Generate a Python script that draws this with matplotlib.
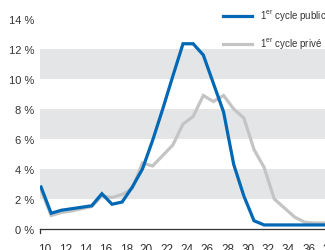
import matplotlib
matplotlib.use("Agg")
import matplotlib.pyplot as plt
import matplotlib.transforms as mtransforms

ages = list(range(10, 39))
public = [2.8, 1.05, 1.25, 1.35, 1.45, 1.55, 2.35, 1.65, 1.8, 2.8, 4.0, 5.9, 8.0, 10.2,
          12.35, 12.35, 11.6, 9.7, 7.8, 4.3, 2.2, 0.55, 0.27, 0.27, 0.27, 0.27, 0.27, 0.27, 0.27]
prive = [2.6, 0.9, 1.1, 1.2, 1.35, 1.5, 2.2, 2.1, 2.3, 2.7, 4.4, 4.2, 4.9, 5.6,
         7.0, 7.5, 8.9, 8.5, 8.9, 8.0, 7.4, 5.3, 4.1, 2.0, 1.4, 0.8, 0.45, 0.4, 0.4]
xticks = list(range(10, 40, 2))
yticks = [0, 2, 4, 6, 8, 10, 12, 14]
bands = [(2, 4), (6, 8), (10, 12)]
label_public = r"1$^{\mathregular{er}}$ cycle public"
label_prive = r"1$^{\mathregular{er}}$ cycle privé"

W, H = 325, 251
fig = plt.figure(figsize=(W / 100, H / 100), dpi=100)
ax = fig.add_axes([40 / W, (H - 230) / H, 285 / W, 225 / H])

font = ["Liberation Sans Narrow", "Liberation Sans", "DejaVu Sans"]
blue = "#0068b4"
grey = "#c4c4c4"
band = "#e4e5e7"
txt = "#333333"

for lo, hi in bands:
    ax.axhspan(lo, hi, color=band, lw=0, zorder=0)

ax.plot(ages, prive, color=grey, lw=2.3, solid_joinstyle="miter", zorder=2, label=label_prive)
ax.plot(ages, public, color=blue, lw=2.3, solid_joinstyle="miter", zorder=3, label=label_public)

ax.set_xlim(9.9, 9.9 + 285 / 10.2)
ax.set_ylim(0, 15)

for s in ["top", "right", "left"]:
    ax.spines[s].set_visible(False)
ax.spines["bottom"].set_color(txt)
ax.spines["bottom"].set_linewidth(0.9)

ax.set_yticks(yticks)
ax.set_yticklabels([f"{v} %" for v in yticks], fontfamily=font, fontsize=8, color=txt)
ax.tick_params(axis="y", length=0, pad=4)

ax.set_xticks(xticks)
ax.set_xticklabels([str(v) for v in xticks], fontfamily=font, fontsize=8.5, color=txt)
ax.tick_params(axis="x", length=0, pad=10)
offset = mtransforms.ScaledTranslation(4 / 100, 0, fig.dpi_scale_trans)
for lab in ax.get_xticklabels():
    lab.set_transform(lab.get_transform() + offset)

# small tick at left end of axis
ax.plot([0, 0], [0, -0.017], transform=ax.transAxes, color=txt, lw=0.9, clip_on=False)

handles, labels = ax.get_legend_handles_labels()
leg = ax.legend(handles[::-1], labels[::-1], loc="upper left",
                bbox_to_anchor=(223 / W, 1 - 9 / H), bbox_transform=fig.transFigure,
                frameon=False, borderpad=0, borderaxespad=0, handlelength=3.0,
                handletextpad=0.8, labelspacing=1.35,
                prop={"family": ["Liberation Sans", "DejaVu Sans"], "size": 7})
for t in leg.get_texts():
    t.set_color(txt)

fig.savefig("out.png", dpi=100)
